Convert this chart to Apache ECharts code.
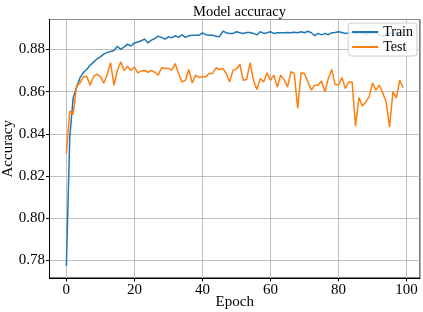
<!DOCTYPE html>
<html>
<head>
<meta charset="utf-8">
<script src="https://cdn.jsdelivr.net/npm/echarts@6/dist/echarts.min.js"></script>
<style>
html,body{margin:0;padding:0;background:#fff;}
#chart{width:423px;height:312px;}
</style>
</head>
<body>
<div id="chart"></div>
<script>
var epochs = [];
for (var i = 0; i < 100; i++) epochs.push(i);

var trainAcc = [
  0.7773, 0.8380, 0.8570, 0.8620, 0.8665, 0.8690, 0.8705, 0.8725, 0.8740, 0.8755,
  0.8765, 0.8778, 0.8786, 0.8790, 0.8795, 0.8815, 0.8800, 0.8812, 0.8825, 0.8816,
  0.8831, 0.8835, 0.8841, 0.8849, 0.8831, 0.8844, 0.8852, 0.8863, 0.8857, 0.8849,
  0.8860, 0.8855, 0.8865, 0.8857, 0.8869, 0.8857, 0.8865, 0.8867, 0.8867, 0.8867,
  0.8879, 0.8870, 0.8867, 0.8867, 0.8862, 0.8860, 0.8887, 0.8879, 0.8876, 0.8876,
  0.8884, 0.8879, 0.8876, 0.8880, 0.8880, 0.8876, 0.8869, 0.8884, 0.8876, 0.8879,
  0.8884, 0.8876, 0.8879, 0.8879, 0.8879, 0.8880, 0.8879, 0.8882, 0.8879, 0.8884,
  0.8879, 0.8886, 0.8879, 0.8865, 0.8876, 0.8869, 0.8876, 0.8870, 0.8879, 0.8880,
  0.8884, 0.8880, 0.8876, 0.8879, 0.8878, 0.8874, 0.8880, 0.8876, 0.8872, 0.8878,
  0.8875, 0.8880, 0.8870, 0.8862, 0.8874, 0.8878, 0.8876, 0.8880, 0.8877, 0.8879
];

var testAcc = [
  0.8306, 0.8508, 0.8492, 0.8627, 0.8640, 0.8670, 0.8672, 0.8630, 0.8672, 0.8683,
  0.8672, 0.8640, 0.8680, 0.8737, 0.8630, 0.8700, 0.8741, 0.8700, 0.8721, 0.8700,
  0.8717, 0.8689, 0.8698, 0.8700, 0.8692, 0.8700, 0.8692, 0.8678, 0.8714, 0.8710,
  0.8710, 0.8702, 0.8733, 0.8685, 0.8646, 0.8654, 0.8705, 0.8641, 0.8678, 0.8667,
  0.8670, 0.8670, 0.8686, 0.8686, 0.8713, 0.8705, 0.8710, 0.8686, 0.8646, 0.8702,
  0.8707, 0.8729, 0.8654, 0.8657, 0.8737, 0.8654, 0.8610, 0.8662, 0.8646, 0.8689,
  0.8654, 0.8678, 0.8622, 0.8678, 0.8657, 0.8622, 0.8694, 0.8686, 0.8520, 0.8689,
  0.8686, 0.8646, 0.8607, 0.8630, 0.8630, 0.8650, 0.8599, 0.8662, 0.8705, 0.8633,
  0.8633, 0.8667, 0.8615, 0.8646, 0.8646, 0.8436, 0.8572, 0.8532, 0.8551, 0.8575,
  0.8641, 0.8607, 0.8630, 0.8594, 0.8551, 0.8432, 0.8599, 0.8570, 0.8654, 0.8618
];

var seriesNames = ['Train', 'Test'];

function pairs(xs, ys) {
  var out = [];
  for (var i = 0; i < xs.length; i++) out.push([xs[i], ys[i]]);
  return out;
}

var FONT = "'Liberation Serif', 'DejaVu Serif', serif";
var chart = echarts.init(document.getElementById('chart'), null, {renderer: 'canvas'});

var axisCommon = {
  type: 'value',
  axisLine: {show: true, onZero: false, lineStyle: {color: '#000', width: 1}},
  axisTick: {show: true, inside: false, length: 3.5, lineStyle: {color: '#000', width: 1}},
  splitLine: {show: true, lineStyle: {color: '#b0b0b0', width: 0.8}},
  nameTextStyle: {fontFamily: FONT, fontSize: 15, color: '#000'},
  nameLocation: 'middle',
  nameMoveOverlap: false
};

chart.setOption({
  animation: false,
  backgroundColor: '#fff',
  title: {
    text: 'Model accuracy',
    left: 234.5,
    textAlign: 'center',
    top: 0,
    textStyle: {fontFamily: FONT, fontSize: 14.5, fontWeight: 'normal', color: '#000'}
  },
  grid: {
    left: 49.5, right: 3, top: 19.5, bottom: 34,
    outerBoundsMode: 'none',
    containLabel: false,
    show: true, borderColor: '#000', borderWidth: 1, backgroundColor: 'transparent'
  },
  legend: {
    data: seriesNames,
    orient: 'vertical',
    right: 6,
    top: 23,
    icon: 'rect',
    itemWidth: 26,
    itemHeight: 2,
    itemGap: 1,
    padding: [2, 4, 2, 4],
    backgroundColor: 'rgba(255,255,255,0.8)',
    borderColor: '#cccccc',
    borderWidth: 1,
    borderRadius: 3,
    textStyle: {fontFamily: FONT, fontSize: 14, color: '#000'}
  },
  xAxis: Object.assign({}, axisCommon, {
    min: -4.95, max: 103.95, splitNumber: 5,
    name: 'Epoch', nameGap: 17,
    axisLabel: {showMinLabel: false, showMaxLabel: false, fontFamily: FONT, fontSize: 15, color: '#000', margin: 5}
  }),
  yAxis: Object.assign({}, axisCommon, {
    min: 0.7716, max: 0.8942, splitNumber: 6,
    name: 'Accuracy', nameGap: 34,
    axisLabel: {showMinLabel: false, showMaxLabel: false, fontFamily: FONT, fontSize: 15, color: '#000', margin: 4.5,
      formatter: function (v) { return v.toFixed(2); }}
  }),
  series: [
    {name: seriesNames[0], type: 'line', data: pairs(epochs, trainAcc), symbol: 'none',
     lineStyle: {color: '#1f77b4', width: 1.5}, itemStyle: {color: '#1f77b4'}, z: 2},
    {name: seriesNames[1], type: 'line', data: pairs(epochs, testAcc), symbol: 'none',
     lineStyle: {color: '#ff7f0e', width: 1.5}, itemStyle: {color: '#ff7f0e'}, z: 2}
  ]
});
</script>
</body>
</html>
